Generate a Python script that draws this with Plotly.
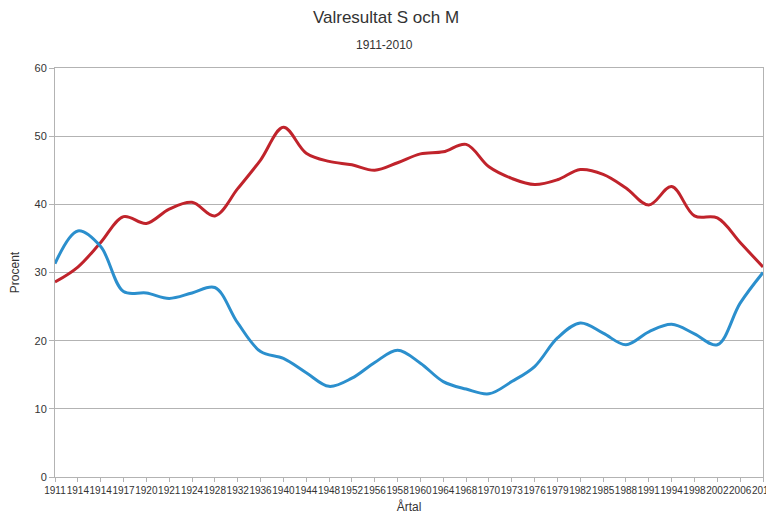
import plotly.graph_objects as go

years = ["1911", "1914", "1914", "1917", "1920", "1921", "1924", "1928", "1932", "1936",
         "1940", "1944", "1948", "1952", "1956", "1958", "1960", "1964", "1968", "1970",
         "1973", "1976", "1979", "1982", "1985", "1988", "1991", "1994", "1998", "2002",
         "2006", "2010"]

s_values = [28.6, 30.8, 34.4, 38.2, 37.2, 39.3, 40.3, 38.3, 42.3, 46.5,
            51.3, 47.5, 46.3, 45.8, 45.0, 46.1, 47.4, 47.7, 48.8, 45.5,
            43.8, 42.9, 43.6, 45.1, 44.4, 42.4, 39.9, 42.6, 38.3, 38.0,
            34.4, 30.8]

m_values = [31.3, 36.1, 33.8, 27.2, 27.0, 26.2, 27.0, 27.8, 22.6, 18.4,
            17.4, 15.3, 13.3, 14.5, 16.8, 18.6, 16.7, 14.0, 12.9, 12.2,
            14.0, 16.2, 20.4, 22.6, 21.1, 19.4, 21.3, 22.4, 21.0, 19.4,
            25.5, 30.0]

y_ticks = [0, 10, 20, 30, 40, 50, 60]

idx = list(range(len(years)))
FONT = "Liberation Sans, Arial, sans-serif"

# the page body adds an 8px margin; the figure is offset so the plot sits where the reference has it
OFF = 8
W, H = 774, 520 - OFF
L, R, T, B = 55 - OFF, 774 - (763 - OFF), 68 - OFF, 43

fig = go.Figure()
fig.add_trace(go.Scatter(x=idx, y=s_values, mode="lines", name="S",
                         line=dict(color="#c0232b", width=3, shape="spline", smoothing=1)))
fig.add_trace(go.Scatter(x=idx, y=m_values, mode="lines", name="M",
                         line=dict(color="#2b8fcd", width=3, shape="spline", smoothing=1)))

plot_w = W - L - R
plot_h = H - T - B

fig.update_layout(
    width=W, height=H,
    margin=dict(l=L, r=R, t=T, b=B),
    paper_bgcolor="white", plot_bgcolor="white",
    showlegend=False,
    font=dict(family=FONT, color="#333333", size=11),
    title=dict(text="Valresultat S och M", x=(386 - OFF) / W, xanchor="center",
               y=1 - (17 - OFF) / H, yanchor="middle", yref="container", automargin=False,
               font=dict(family=FONT, size=17, color="#333333")),
    annotations=[dict(text="1911-2010", x=(384 - 55) / plot_w, xref="paper", xanchor="center",
                      y=(477 - 45) / plot_h, yref="paper", yanchor="middle",
                      showarrow=False, font=dict(family=FONT, size=12, color="#333333"))],
    xaxis=dict(
        tickmode="array", tickvals=idx, ticktext=years, tickangle=0,
        range=[0, len(years) - 1], automargin=False, ticklabeloverflow="allow",
        showgrid=False, zeroline=False,
        showline=True, linecolor="#b3b3b3", linewidth=1, mirror=True,
        ticks="outside", ticklen=4, tickcolor="#b3b3b3",
        tickfont=dict(family=FONT, size=10, color="#333333"),
        title=dict(text="Årtal", standoff=7, font=dict(family=FONT, size=12, color="#333333")),
    ),
    yaxis=dict(
        range=[0, 60], tickmode="array", tickvals=y_ticks, automargin=False,
        showgrid=True, gridcolor="#b3b3b3", gridwidth=1, zeroline=False,
        showline=True, linecolor="#b3b3b3", linewidth=1, mirror=True,
        ticks="outside", ticklen=5, tickcolor="#b3b3b3",
        tickfont=dict(family=FONT, size=11, color="#333333"),
        title=dict(text="Procent", standoff=12, font=dict(family=FONT, size=12, color="#333333")),
    ),
)

fig.write_html("out.html")
